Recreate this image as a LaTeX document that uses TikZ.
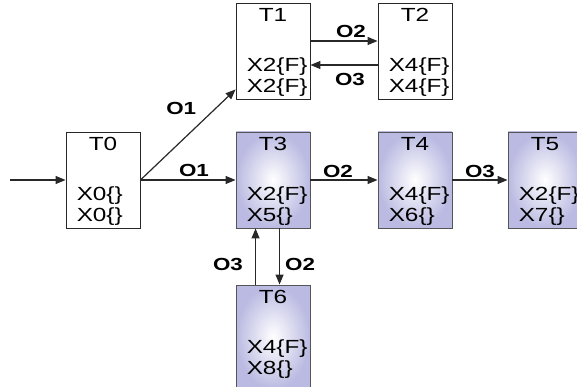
\documentclass[tikz,border=0pt]{standalone}
\usepackage{fontspec}
\setmainfont{Liberation Sans}[FakeStretch=1.28]
\usepackage{xcolor}
\usetikzlibrary{arrows.meta}
\definecolor{lavanda}{RGB}{186,186,226}
\definecolor{borde}{RGB}{85,85,85}
\definecolor{linea}{RGB}{40,40,40}

\begin{document}
\begin{tikzpicture}[x=1pt,y=-1pt,
	estado/.style={draw=linea,line width=0.9pt,minimum width=74pt,minimum height=96pt,inner sep=0pt,fill=white},
	sombreado/.style={estado,draw=borde,inner color=white,outer color=lavanda},
	alto/.style={sombreado,minimum height=104pt},
	texto/.style={font=\fontsize{19}{21}\selectfont,inner sep=0pt,text height=14pt,text depth=4pt},
	flecha/.style={draw=linea,line width=1.2pt,-{Triangle[length=10pt,width=8pt]}},
	etq/.style={font=\fontsize{17.5}{20}\selectfont\bfseries,inner sep=0pt}]
		\useasboundingbox (0,0) rectangle (577,387);
		
		% dibuja los estados: nombre/x/y/estilo/titulo/linea 1/linea 2
		\foreach \nm/\x/\y/\est/\ti/\la/\lb in {
			t0/103/180/estado/T0/X0\{\}/X0\{\},
			t1/273/51/estado/T1/X2\{F\}/X2\{F\},
			t2/415/51/estado/T2/X4\{F\}/X4\{F\},
			t3/273/180/sombreado/T3/X2\{F\}/X5\{\},
			t4/415/180/sombreado/T4/X4\{F\}/X6\{\},
			t5/545/180/sombreado/T5/X2\{F\}/X7\{\},
			t6/273/337/alto/T6/X4\{F\}/X8\{\}} {
				\node[\est] (\nm) at (\x,\y) {};
				\node[texto] (\nm t) at ([yshift=-14pt]\nm.north) {\ti};
				\node[texto,anchor=west] (\nm a) at ([xshift=11pt,yshift=-64pt]\nm.north west) {\la};
				\node[texto,anchor=west] (\nm b) at ([xshift=11pt,yshift=-85pt]\nm.north west) {\lb};
			}
		
		% transiciones
		\coordinate (entrada) at (10,180);
		\draw[flecha] (entrada) -- (t0.west);
		\draw[flecha] (t0.east) -- node[etq,above=3pt,xshift=6pt] (o1a) {O1} (t3.west);
		\draw[flecha] (t0.east) -- node[etq,pos=0.75,left=15pt,yshift=4pt] (o1b) {O1} ([yshift=10pt]t1.south west);
		\draw[flecha] ([yshift=10pt]t1.east) -- node[etq,above=3pt,xshift=7pt] (o2a) {O2} ([yshift=10pt]t2.west);
		\draw[flecha] ([yshift=-14pt]t2.west) -- node[etq,below=8pt,xshift=6pt] (o3a) {O3} ([yshift=-14pt]t1.east);
		\draw[flecha] (t3.east) -- node[etq,above=2pt,xshift=-6pt] (o2b) {O2} (t4.west);
		\draw[flecha] (t4.east) -- node[etq,above=2pt] (o3b) {O3} (t5.west);
		\draw[flecha] ([xshift=20pt]t6.north west) -- node[etq,left=12pt,yshift=-8pt] (o3c) {O3} ([xshift=20pt]t3.south west);
		\draw[flecha] ([xshift=44pt]t3.south west) -- node[etq,right=5pt,yshift=-8pt] (o2c) {O2} ([xshift=44pt]t6.north west);
\end{tikzpicture}
\end{document}
